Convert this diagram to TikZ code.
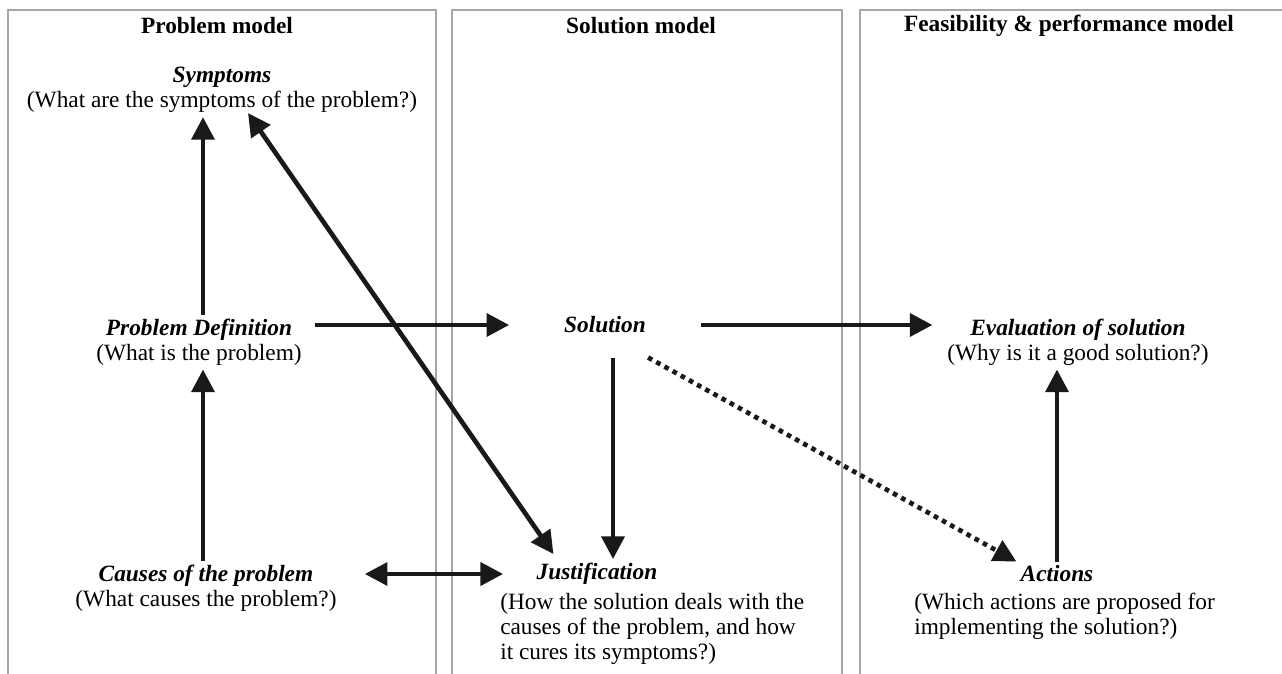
\documentclass[tikz,border=0pt]{standalone}
\usepackage{fontspec}
\setmainfont{Liberation Serif}
\usetikzlibrary{arrows.meta}

\newcommand{\ctitle}[1]{\textbf{\textit{#1}}}

\begin{document}
\begin{tikzpicture}[x=0.75pt,y=-0.75pt,
    every node/.style={font=\fontsize{17.5}{18.8}\selectfont},
    heading/.style={font=\fontsize{17.5}{18.8}\selectfont\bfseries},
    concept/.style={align=center,inner sep=3pt},
    notes/.style={anchor=north west,align=left,inner sep=0pt},
    panel/.style={draw=black!35,line width=1pt},
    flow/.style={line width=3.5pt,draw=black!90,-{Triangle[length=17pt,width=17pt]}},
    twoway/.style={flow,{Triangle[length=17pt,width=17pt]}-{Triangle[length=17pt,width=17pt]}}]
    \useasboundingbox (0,0) rectangle (1282,674);

    % three model panels, open at the bottom
    \draw[panel] (8,674) |- (436,10) -- (436,674);
    \draw[panel] (452,674) |- (842,10) -- (842,674);
    \draw[panel] (860,674) |- (1282,10);

    \node[heading] (hprob) at (217,26) {Problem model};
    \node[heading] (hsol) at (641,26) {Solution model};
    \node[heading] (hfeas) at (1069,26) {Feasibility \& performance model};

    % problem model
    \node[concept] (symp) at (222,90)
      {\ctitle{Symptoms}\\(What are the symptoms of the problem?)};
    \node[concept] (pdef) at (199,342)
      {\ctitle{Problem Definition}\\(What is the problem)};
    \node[concept] (cause) at (206,588)
      {\ctitle{Causes of the problem}\\(What causes the problem?)};

    % solution model
    \node[inner xsep=41pt,inner ysep=18pt] (sol) at (605,325) {\ctitle{Solution}};
    \node[concept] (just) at (597,574) {\ctitle{Justification}};
    \node[notes] (justtxt) at (500,593)
      {(How the solution deals with the\\causes of the problem, and how\\it cures its symptoms?)};

    % feasibility & performance model
    \node[concept] (eval) at (1078,342)
      {\ctitle{Evaluation of solution}\\(Why is it a good solution?)};
    \node[concept] (act) at (1057,574) {\ctitle{Actions}};
    \node[notes] (acttxt) at (914,593)
      {(Which actions are proposed for\\implementing the solution?)};

    % connectors
    \draw[flow] ([xshift=3pt]pdef.north) -- ([xshift=3pt]pdef.north |- symp.south);
    \draw[flow] ([xshift=3pt]cause.north -| pdef.north) -- ([xshift=3pt]pdef.south);
    \draw[twoway] ([shift={(21,-5)}]just.north west) -- ([shift={(26,-4)}]symp.south);
    \draw[flow,shorten <=7pt] (pdef.east |- sol.west) -- (sol.west);
    \draw[flow,shorten >=8pt] (sol.east) -- (sol.east -| eval.west);
    \draw[flow] ([xshift=6pt]sol.south) -- ([xshift=6pt]sol.south |- just.north);
    \draw[flow,dash pattern=on 3.5pt off 3.5pt] (sol.-37) -- (act.north west);
    \draw[flow] (act.north) -- (act.north |- eval.south);
    \draw[twoway,shorten <=18pt,shorten >=22pt] (cause.east |- just.west) -- (just.west);
  \end{tikzpicture}
\end{document}
